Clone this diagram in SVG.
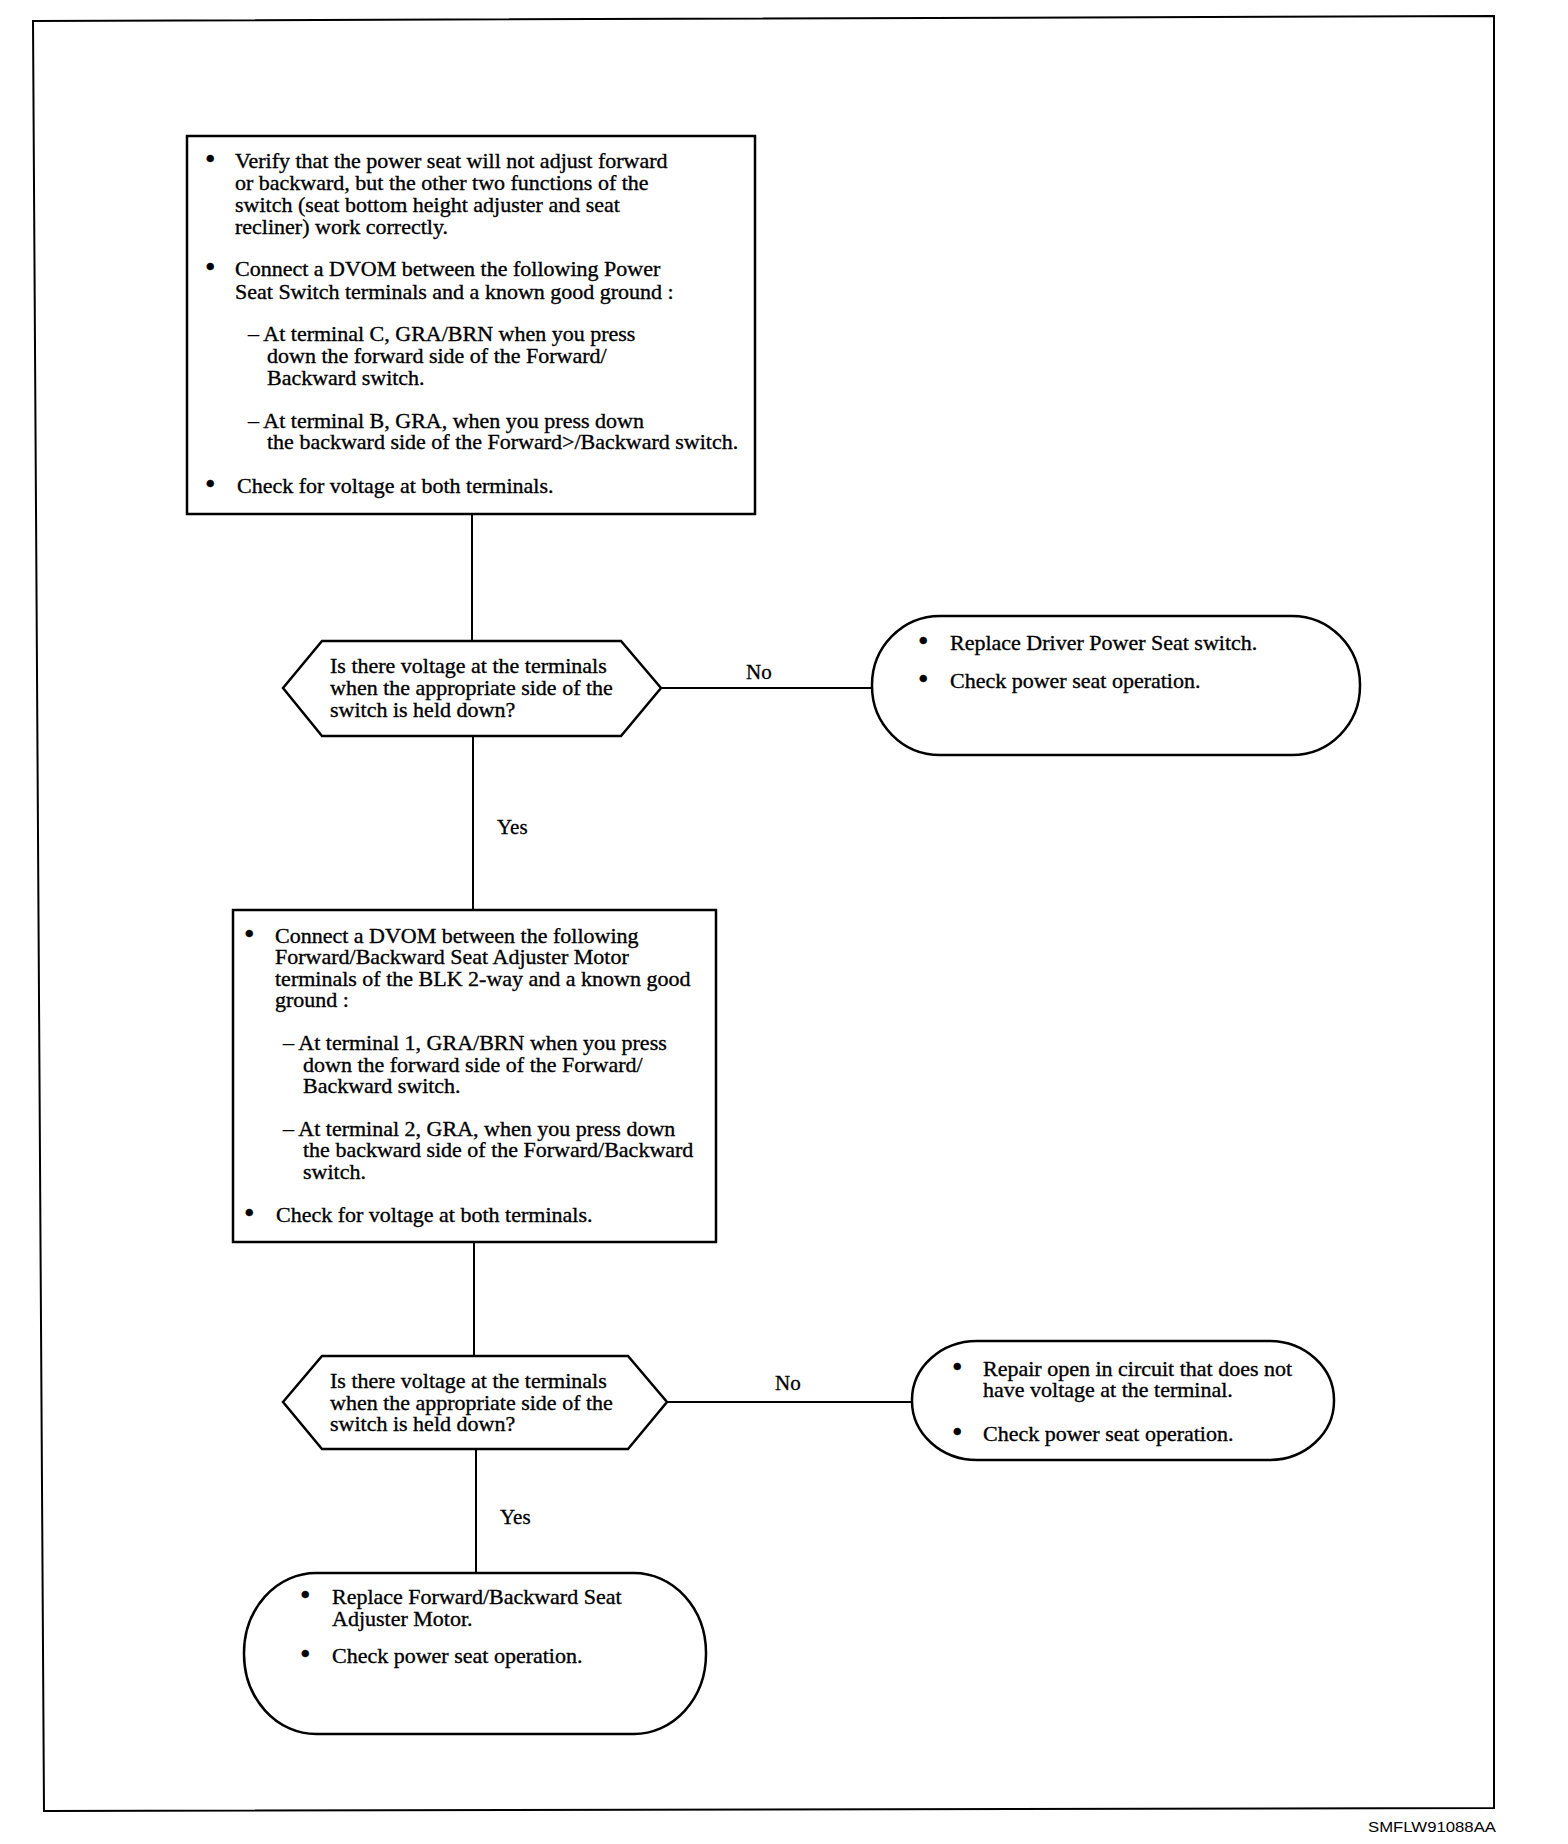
<svg xmlns="http://www.w3.org/2000/svg" width="1568" height="1844" viewBox="0 0 1568 1844">
<style>
.t{font-family:"Liberation Serif","Times New Roman",serif;font-size:22px;fill:#000;stroke:#000;stroke-width:0.35}
.b{font-size:30px}
.s{fill:#fff;stroke:#000;stroke-width:2.5}
.c{fill:none;stroke:#000;stroke-width:2}
.l{font-family:"Liberation Serif","Times New Roman",serif;font-size:21px;fill:#000;stroke:#000;stroke-width:0.3}
</style>
<rect width="1568" height="1844" fill="#fff"/>
<polygon points="33,21 1494,16 1494,1808 44,1811" fill="none" stroke="#000" stroke-width="2"/>
<g id="connectors">
<line class="c" x1="472" y1="514" x2="472" y2="641"/>
<line class="c" x1="661" y1="688" x2="872" y2="688"/>
<line class="c" x1="473" y1="736" x2="473" y2="909"/>
<line class="c" x1="474" y1="1242" x2="474" y2="1356"/>
<line class="c" x1="667" y1="1402" x2="912" y2="1402"/>
<line class="c" x1="476" y1="1449" x2="476" y2="1573"/>
<text class="l" x="746" y="679">No</text>
<text class="l" x="497" y="834">Yes</text>
<text class="l" x="775" y="1390">No</text>
<text class="l" x="500" y="1524">Yes</text>
</g>
<g id="box1">
<rect class="s" x="187" y="136" width="568" height="378"/>
<g class="t">
<text class="b" x="205" y="169">•</text>
<text x="235" y="168">Verify that the power seat will not adjust forward</text>
<text x="235" y="190">or backward, but the other two functions of the</text>
<text x="235" y="212">switch (seat bottom height adjuster and seat</text>
<text x="235" y="234">recliner) work correctly.</text>
<text class="b" x="205" y="277">•</text>
<text x="235" y="276">Connect a DVOM between the following Power</text>
<text x="235" y="299">Seat Switch terminals and a known good ground :</text>
<text x="248" y="341">– At terminal C, GRA/BRN when you press</text>
<text x="267" y="363">down the forward side of the Forward/</text>
<text x="267" y="385">Backward switch.</text>
<text x="248" y="428">– At terminal B, GRA, when you press down</text>
<text x="267" y="449">the backward side of the Forward&gt;/Backward switch.</text>
<text class="b" x="205" y="494">•</text>
<text x="237" y="493">Check for voltage at both terminals.</text>
</g>
</g>
<g id="decision1">
<polygon class="s" points="283,688 322,641 621,641 661,688 621,736 322,736"/>
<g class="t">
<text x="330" y="673">Is there voltage at the terminals</text>
<text x="330" y="695">when the appropriate side of the</text>
<text x="330" y="717">switch is held down?</text>
</g>
</g>
<g id="terminal1">
<rect class="s" x="872" y="616" width="488" height="139" rx="68" ry="69"/>
<g class="t">
<text class="b" x="918" y="651">•</text>
<text x="950" y="650">Replace Driver Power Seat switch.</text>
<text class="b" x="918" y="689">•</text>
<text x="950" y="688">Check power seat operation.</text>
</g>
</g>
<g id="box2">
<rect class="s" x="233" y="910" width="483" height="332"/>
<g class="t">
<text class="b" x="244" y="944">•</text>
<text x="275" y="943">Connect a DVOM between the following</text>
<text x="275" y="964">Forward/Backward Seat Adjuster Motor</text>
<text x="275" y="986">terminals of the BLK 2-way and a known good</text>
<text x="275" y="1007">ground :</text>
<text x="283" y="1050">– At terminal 1, GRA/BRN when you press</text>
<text x="303" y="1072">down the forward side of the Forward/</text>
<text x="303" y="1093">Backward switch.</text>
<text x="283" y="1136">– At terminal 2, GRA, when you press down</text>
<text x="303" y="1157">the backward side of the Forward/Backward</text>
<text x="303" y="1179">switch.</text>
<text class="b" x="244" y="1223">•</text>
<text x="276" y="1222">Check for voltage at both terminals.</text>
</g>
</g>
<g id="decision2">
<polygon class="s" points="283,1402 322,1356 628,1356 667,1402 628,1449 322,1449"/>
<g class="t">
<text x="330" y="1388">Is there voltage at the terminals</text>
<text x="330" y="1410">when the appropriate side of the</text>
<text x="330" y="1431">switch is held down?</text>
</g>
</g>
<g id="terminal2">
<rect class="s" x="912" y="1341" width="422" height="119" rx="65" ry="59"/>
<g class="t">
<text class="b" x="952" y="1377">•</text>
<text x="983" y="1376">Repair open in circuit that does not</text>
<text x="983" y="1397">have voltage at the terminal.</text>
<text class="b" x="952" y="1442">•</text>
<text x="983" y="1441">Check power seat operation.</text>
</g>
</g>
<g id="terminal3">
<rect class="s" x="244" y="1573" width="462" height="161" rx="72" ry="80"/>
<g class="t">
<text class="b" x="300" y="1605">•</text>
<text x="332" y="1604">Replace Forward/Backward Seat</text>
<text x="332" y="1626">Adjuster Motor.</text>
<text class="b" x="300" y="1664">•</text>
<text x="332" y="1663">Check power seat operation.</text>
</g>
</g>
<text x="1368" y="1832" font-family="Liberation Sans Narrow,Liberation Sans,Arial,sans-serif" font-size="15" textLength="128" lengthAdjust="spacingAndGlyphs">SMFLW91088AA</text>
</svg>
